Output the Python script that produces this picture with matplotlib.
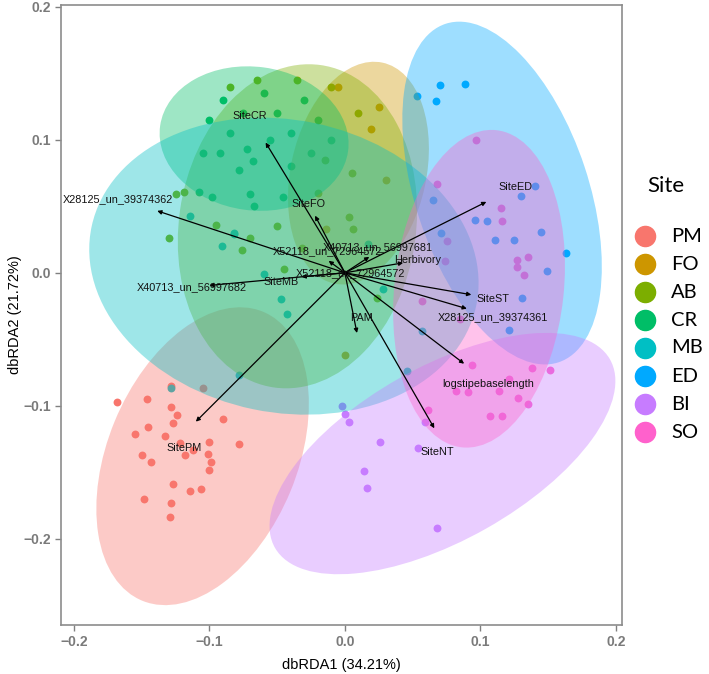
import matplotlib
matplotlib.use("Agg")
import matplotlib.pyplot as plt
from matplotlib.patches import Ellipse
from matplotlib.lines import Line2D

plt.rcParams['font.family'] = ['Liberation Sans', 'DejaVu Sans']

# ---------------- data ----------------
sites = ["PM", "FO", "AB", "CR", "MB", "ED", "BI", "SO"]
site_colors = ["#F8766D", "#CD9600", "#7CAE00", "#00BE67", "#00BFC4", "#00A9FF", "#C77CFF", "#FF61CC"]

pm_x = [-0.168, -0.146, -0.128, -0.124, -0.127, -0.145, -0.155, -0.133, -0.122, -0.100, -0.078, -0.112,
        -0.150, -0.143, -0.118, -0.101, -0.099, -0.100, -0.127, -0.114, -0.106, -0.128, -0.129, -0.148,
        -0.128, -0.105, -0.090]
pm_y = [-0.097, -0.095, -0.101, -0.107, -0.113, -0.116, -0.121, -0.123, -0.128, -0.127, -0.129, -0.133,
        -0.137, -0.142, -0.137, -0.136, -0.142, -0.148, -0.159, -0.164, -0.163, -0.173, -0.184, -0.170,
        -0.085, -0.087, -0.110]
fo_x = [0.019, 0.000, -0.014, 0.025, 0.030, -0.005]
fo_y = [0.108, -0.062, 0.033, 0.125, 0.070, 0.140]
ab_x = [-0.119, -0.125, -0.095, -0.076, -0.070, -0.130, 0.003, 0.006, -0.032, 0.024, -0.020, -0.010,
        -0.035, 0.010, -0.065, 0.005, -0.050, -0.015, -0.085, -0.045]
ab_y = [0.061, 0.059, 0.036, 0.017, 0.026, 0.026, 0.042, 0.033, 0.019, -0.019, 0.060, 0.140,
        0.145, 0.120, 0.145, 0.075, 0.035, 0.085, 0.140, 0.003]
cr_x = [-0.105, -0.092, -0.078, -0.072, -0.068, -0.108, -0.098, -0.070, -0.067, -0.090, -0.075, -0.060,
        -0.050, -0.040, -0.030, -0.055, -0.040, -0.020, -0.010, -0.025, -0.085, -0.100, -0.046]
cr_y = [0.090, 0.090, 0.077, 0.093, 0.084, 0.061, 0.057, 0.059, 0.050, 0.130, 0.120, 0.135,
        0.120, 0.105, 0.130, 0.100, 0.080, 0.115, 0.100, 0.090, 0.105, 0.115, 0.057]
mb_x = [-0.128, -0.078, 0.028, -0.060, -0.047, -0.043, 0.046, 0.057, 0.017, -0.082, -0.091, -0.082, -0.114]
mb_y = [-0.087, -0.077, -0.012, -0.001, -0.020, -0.031, -0.074, -0.044, 0.022, 0.029, 0.020, 0.030, 0.043]
ed_x = [0.065, 0.130, 0.140, 0.096, 0.105, 0.111, 0.125, 0.145, 0.149, 0.163, 0.131, 0.121, 0.071,
        0.053, 0.067, 0.070, 0.089]
ed_y = [0.055, 0.058, 0.065, 0.040, 0.039, 0.025, 0.025, 0.031, 0.001, 0.015, -0.019, -0.043, 0.030,
        0.133, 0.129, 0.141, 0.142]
bi_x = [-0.002, 0.000, 0.003, 0.026, 0.014, 0.016, 0.059, 0.068, 0.054]
bi_y = [-0.100, -0.106, -0.112, -0.127, -0.149, -0.162, -0.112, -0.192, -0.132]
so_x = [0.068, 0.115, 0.116, 0.127, 0.135, 0.132, 0.127, 0.075, 0.074, 0.057, 0.085, 0.097,
        0.094, 0.138, 0.151, 0.121, 0.082, 0.091, 0.114, 0.128, 0.135, 0.107, 0.116, 0.061]
so_y = [0.067, 0.049, 0.039, 0.010, 0.012, -0.002, 0.004, 0.024, 0.009, -0.021, -0.035, 0.100,
        -0.069, -0.072, -0.073, -0.080, -0.089, -0.090, -0.089, -0.094, -0.099, -0.108, -0.108, -0.103]

pts_x = [pm_x, fo_x, ab_x, cr_x, mb_x, ed_x, bi_x, so_x]
pts_y = [pm_y, fo_y, ab_y, cr_y, mb_y, ed_y, bi_y, so_y]

# confidence ellipses (centre, full axis lengths, angle of first axis in degrees)
ell_cx = [-0.105, 0.010, -0.035, -0.067, -0.045, 0.116, 0.072, 0.099]
ell_cy = [-0.138, 0.075, 0.035, 0.101, 0.005, 0.060, -0.136, -0.012]
ell_w = [0.235, 0.170, 0.245, 0.140, 0.290, 0.268, 0.285, 0.240]
ell_h = [0.140, 0.100, 0.175, 0.108, 0.220, 0.128, 0.130, 0.125]
ell_ang = [68, 78, 82, -8, -12, 108, 30, 84]

# biplot arrows
arrow_names = ["SiteCR", "SiteFO", "X28125_un_39374362", "X52118_un_72964572", "X40713_un_56997681",
               "Herbivory", "X52118_un_72964572", "SiteMB", "X40713_un_56997682", "SiteED", "SiteST",
               "X28125_un_39374361", "logstipebaselength", "SiteNT", "PAM", "SitePM"]
arrow_x = [-0.0585, -0.022, -0.1385, -0.012, 0.018, 0.043, 0.003, -0.032, -0.100, 0.1044, 0.0933,
           0.090, 0.088, 0.066, 0.0089, -0.110]
arrow_y = [0.098, 0.043, 0.0466, 0.009, 0.012, 0.0075, -0.001, -0.003, -0.0095, 0.0534, -0.0165,
           -0.027, -0.0684, -0.117, -0.0453, -0.112]
label_x = [-0.070, -0.027, -0.1674, -0.013, 0.024, 0.054, 0.004, -0.047, -0.113, 0.126, 0.109,
           0.1096, 0.106, 0.068, 0.0126, -0.1185]
label_y = [0.118, 0.052, 0.0556, 0.0165, 0.019, 0.0098, 0.000, -0.0068, -0.0110, 0.0647, -0.0195,
           -0.033, -0.0835, -0.135, -0.034, -0.132]

xlim = (-0.2095, 0.2045)
ylim = (-0.265, 0.2015)
xticks = [-0.2, -0.1, 0.0, 0.1, 0.2]
yticks = [-0.2, -0.1, 0.0, 0.1, 0.2]

# ---------------- figure ----------------
W, H = 709, 674
fig = plt.figure(figsize=(W / 100, H / 100), dpi=100)
ax = fig.add_axes([61 / W, 1 - 625 / H, (622 - 61) / W, (625 - 5) / H])

for xs, ys, c in zip(pts_x, pts_y, site_colors):
    ax.scatter(xs, ys, s=32, color=c, linewidths=0, zorder=1)

for cx, cy, w, h, a, c in zip(ell_cx, ell_cy, ell_w, ell_h, ell_ang, site_colors):
    ax.add_patch(Ellipse((cx, cy), w, h, angle=a, facecolor=c, edgecolor='none', alpha=0.38, zorder=2))

for tx, ty in zip(arrow_x, arrow_y):
    ax.annotate("", xy=(tx, ty), xytext=(0, 0),
                arrowprops=dict(arrowstyle='-|>', color='black', lw=0.9, mutation_scale=6,
                                shrinkA=0, shrinkB=0), zorder=3)
for name, lx, ly in zip(arrow_names, label_x, label_y):
    ax.text(lx, ly, name, fontsize=7.8, ha='center', va='center', color='#111111', zorder=4)

ax.set_xlim(*xlim)
ax.set_ylim(*ylim)
ax.set_xticks(xticks)
ax.set_yticks(yticks)
ax.set_xticklabels([f"{v:.1f}".replace("-", "\u2212") for v in xticks])
ax.set_yticklabels([f"{v:.1f}".replace("-", "\u2212") for v in yticks])
ax.tick_params(colors='#808080', labelsize=10, length=4, width=1)
for lab in ax.get_xticklabels() + ax.get_yticklabels():
    lab.set_fontweight('bold')
    lab.set_color('#7a7a7a')
for sp in ax.spines.values():
    sp.set_color('#8c8c8c')
    sp.set_linewidth(1.2)
ax.set_facecolor('white')
ax.set_xlabel("dbRDA1 (34.21%)", fontsize=10.5, labelpad=6)
ax.set_ylabel("dbRDA2 (21.72%)", fontsize=10.5, labelpad=1)

# legend (manual, in pixel-based figure coordinates)
fig.text(666 / W, 1 - 186 / H, "Site", fontsize=16, family=['Lato', 'DejaVu Sans'],
         ha='center', va='center')
for i, (s, c) in enumerate(zip(sites, site_colors)):
    yy = 1 - (236 + 28 * i) / H
    fig.add_artist(Line2D([645 / W], [yy], marker='o', markersize=14.5, color=c, ls='',
                          transform=fig.transFigure))
    fig.text(671 / W, yy, s, fontsize=14.5, family=['Lato', 'DejaVu Sans'], ha='left', va='center')

fig.savefig("out.png", dpi=100)
